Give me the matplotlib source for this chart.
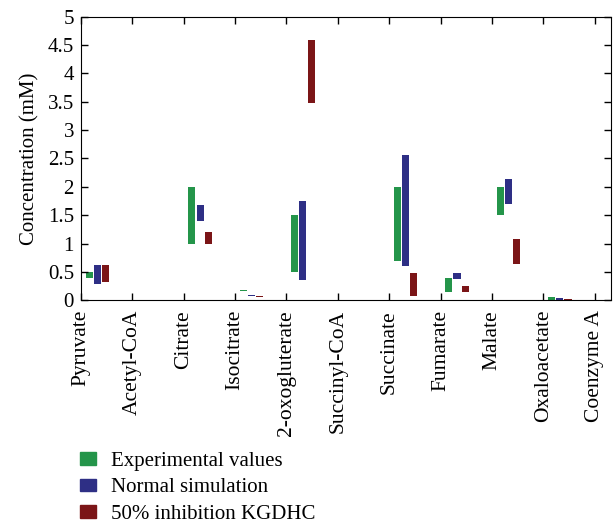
import numpy as np
import matplotlib
matplotlib.use('Agg')
import matplotlib.pyplot as plt
from matplotlib.patches import Patch

plt.rcParams['font.family'] = ['Liberation Serif', 'DejaVu Serif']

categories = ['Pyruvate', 'Acetyl-CoA', 'Citrate', 'Isocitrate', '2-oxogluterate',
              'Succinyl-CoA', 'Succinate', 'Fumarate', 'Malate', 'Oxaloacetate', 'Coenzyme A']
exp_low = [0.40, 0, 1.00, 0.16, 0.50, 0, 0.70, 0.15, 1.50, 0, 0]
exp_high = [0.50, 0, 2.00, 0.18, 1.50, 0, 2.00, 0.40, 2.00, 0.06, 0]
sim_low = [0.28, 0, 1.40, 0.07, 0.35, 0, 0.60, 0.37, 1.70, 0, 0]
sim_high = [0.62, 0, 1.68, 0.10, 1.75, 0, 2.56, 0.48, 2.14, 0.035, 0]
inh_low = [0.32, 0, 1.00, 0.05, 3.48, 0, 0.07, 0.14, 0.64, 0, 0]
inh_high = [0.62, 0, 1.20, 0.08, 4.59, 0, 0.48, 0.25, 1.08, 0.015, 0]
yticks = [0, 0.5, 1, 1.5, 2, 2.5, 3, 3.5, 4, 4.5, 5]
ytick_labels = ['0', '0.5', '1', '1.5', '2', '2.5', '3', '3.5', '4', '4.5', '5']

green = '#24954a'
blue = '#2e2f85'
red = '#7b1517'

fig = plt.figure(figsize=(6.13, 5.23), dpi=100)
ax = fig.add_axes([0.132, 0.426, 0.865, 0.542])

x = np.arange(len(categories))
w = 0.14
for off, lo, hi, c in [(0.16, exp_low, exp_high, green),
                       (0.32, sim_low, sim_high, blue),
                       (0.48, inh_low, inh_high, red)]:
    lo = np.array(lo)
    hi = np.array(hi)
    ax.bar(x + off, hi - lo, bottom=lo, width=w, color=c, linewidth=0)

ax.set_xlim(0, 10.32)
ax.set_ylim(0, 5)
ax.set_yticks(yticks)
ax.set_yticklabels(ytick_labels, fontsize=15)
ax.set_xticks(x)
ax.set_xticklabels(categories, rotation=90, fontsize=15.5)
ax.tick_params(direction='in', top=True, right=True, length=5, width=1)
ax.tick_params(axis='x', pad=7)
ax.tick_params(axis='y', pad=5)
ax.set_ylabel('Concentration (mM)', fontsize=15, labelpad=6)

handles = [Patch(color=green), Patch(color=blue), Patch(color=red)]
labels = ['Experimental values', 'Normal simulation', '50% inhibition KGDHC']
fig.legend(handles, labels, loc='upper left', bbox_to_anchor=(0.1, 0.172),
           frameon=False, fontsize=15, handlelength=0.75, handleheight=0.55,
           handletextpad=0.75, labelspacing=0.36)

fig.savefig('out.png', dpi=100)
